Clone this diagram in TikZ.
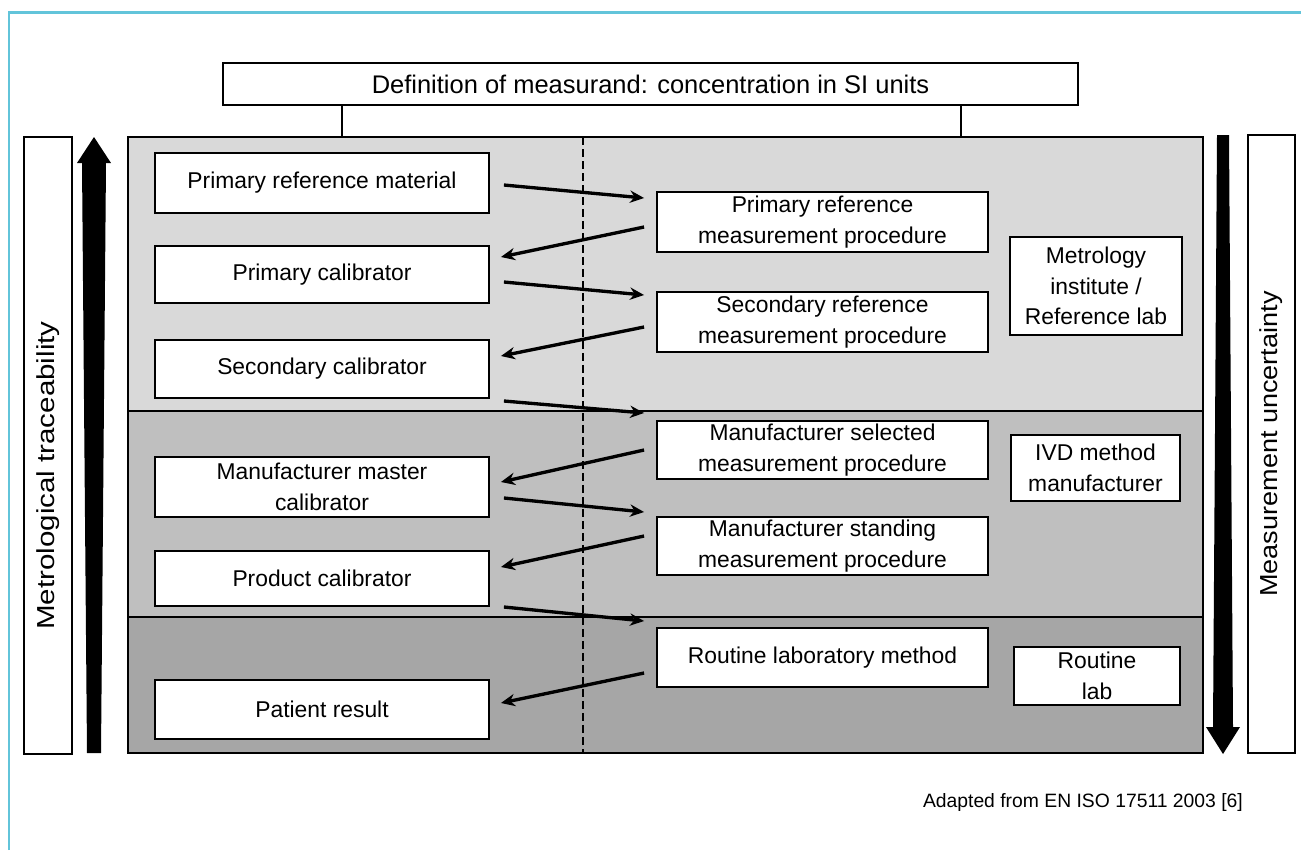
\documentclass[tikz,border=0pt]{standalone}
\usepackage{fontspec}
\usepackage{graphicx}
\setmainfont{Liberation Sans}
\usetikzlibrary{arrows.meta}
\definecolor{frameblue}{RGB}{98,196,218}
\definecolor{bandA}{RGB}{217,217,217}
\definecolor{bandB}{RGB}{191,191,191}
\definecolor{bandC}{RGB}{166,166,166}
\tikzset{
  box/.style={draw, line width=1.1pt, fill=white, align=center, inner sep=0pt, font=\fontsize{13}{17.5}\selectfont},
  leftbox/.style={box, minimum width=6.68cm},
  rightbox/.style={box, minimum width=6.62cm},
  flow/.style={-{Stealth[length=8pt,width=7pt]}, line width=1.9pt},
  sidebox/.style={box, rotate=90, minimum height=0.95cm, font=\fontsize{14}{16}\selectfont},
}

\begin{document}
\begin{tikzpicture}[x=0.02cm, y=-0.02cm]
            \useasboundingbox (0,0) rectangle (1301,850);
            \draw[frameblue, line width=1.7pt] (9,850) -- (9,12) -- (1301,12);

            % bands
            \fill[bandA] (128,137) rectangle (1203,411);
            \fill[bandB] (128,411) rectangle (1203,617);
            \fill[bandC] (128,617) rectangle (1203,753);
            \draw[line width=1.1pt] (128,411) -- (1203,411) (128,617) -- (1203,617);
            \draw[line width=1.1pt] (128,137) rectangle (1203,753);
            \draw[line width=1.1pt, dash pattern=on 0.16cm off 0.08cm] (583,137) -- (583,753);

            \node[box, minimum width=17.1cm, minimum height=0.84cm, font=\fontsize{14.5}{17}\selectfont] (def) at (650.5,84) {Definition of measurand: concentration in SI units};
            \draw[line width=1.1pt] ([xshift=2.4cm]def.south west) -- ++(0,32);
            \draw[line width=1.1pt] ([xshift=-2.36cm]def.south east) -- ++(0,32);

            \node[leftbox, minimum height=1.2cm] (prm) at (322,183) {Primary reference material};
            \node[leftbox, minimum height=1.14cm] (pc) at (322,274.5) {Primary calibrator};
            \node[leftbox, minimum height=1.16cm] (sc) at (322,369) {Secondary calibrator};
            \node[leftbox, minimum height=1.2cm] (mmc) at (322,487) {Manufacturer master\\calibrator};
            \node[leftbox, minimum height=1.1cm] (pdc) at (322,578.5) {Product calibrator};
            \node[leftbox, minimum height=1.18cm] (pr) at (322,709.5) {Patient result};

            \node[rightbox, minimum height=1.2cm] (prpr) at (822.5,222) {Primary reference\\measurement procedure};
            \node[rightbox, minimum height=1.2cm] (srpr) at (822.5,322) {Secondary reference\\measurement procedure};
            \node[rightbox, minimum height=1.16cm] (msmp) at (822.5,450) {Manufacturer selected\\measurement procedure};
            \node[rightbox, minimum height=1.16cm] (mstmp) at (822.5,546) {Manufacturer standing\\measurement procedure};
            \node[rightbox, minimum height=1.18cm] (rlm) at (822.5,657.5) {Routine laboratory method};

            \node[box, minimum width=3.44cm, minimum height=1.96cm] (mil) at (1096,286) {Metrology\\institute /\\Reference lab};
            \node[box, minimum width=3.38cm, minimum height=1.32cm] (ivd) at (1095.5,468) {IVD method\\manufacturer};
            \node[box, minimum width=3.32cm, minimum height=1.16cm] (rtl) at (1097,676) {Routine\\lab};

            \node[sidebox, minimum width=12.34cm] (trace) at (48,445.5) {\scalebox{1.2}[1]{Metrological traceability}\hspace*{1.2cm}};
            \node[sidebox, minimum width=12.36cm] (unc) at (1271.5,444) {\scalebox{1.1}[1]{Measurement uncertainty}};

            % big arrows
            \fill (87,753) -- (82,163) -- (77,163) -- (94,137) -- (111,163) -- (106,163) -- (101,753) -- cycle;
            \fill (1217,135) -- (1213,727) -- (1206,727) -- (1223,754) -- (1240,727) -- (1233,727) -- (1229,135) -- cycle;

            \foreach \s/\sy/\t/\ty in {prm/2/prpr/-24, pc/7.5/srpr/-27, sc/32/msmp/-37, mmc/11/mstmp/-34, pdc/28.5/rlm/-36.5}
                \draw[flow] ([shift={(14,\sy)}]\s.east) -- ([shift={(-12,\ty)}]\t.west);
            \foreach \s/\sy/\t/\ty in {prpr/5/pc/-17.5, srpr/5/sc/-13, msmp/0/mmc/-5, mstmp/-10/pdc/-11.5, rlm/15.5/pr/-6.5}
                \draw[flow] ([shift={(-12,\sy)}]\s.west) -- ([shift={(11,\ty)}]\t.east);

            \node[anchor=base east, font=\fontsize{11}{13}\selectfont] (src) at (1249,807) {Adapted from EN ISO 17511 2003 [6]};
        \end{tikzpicture}
\end{document}
